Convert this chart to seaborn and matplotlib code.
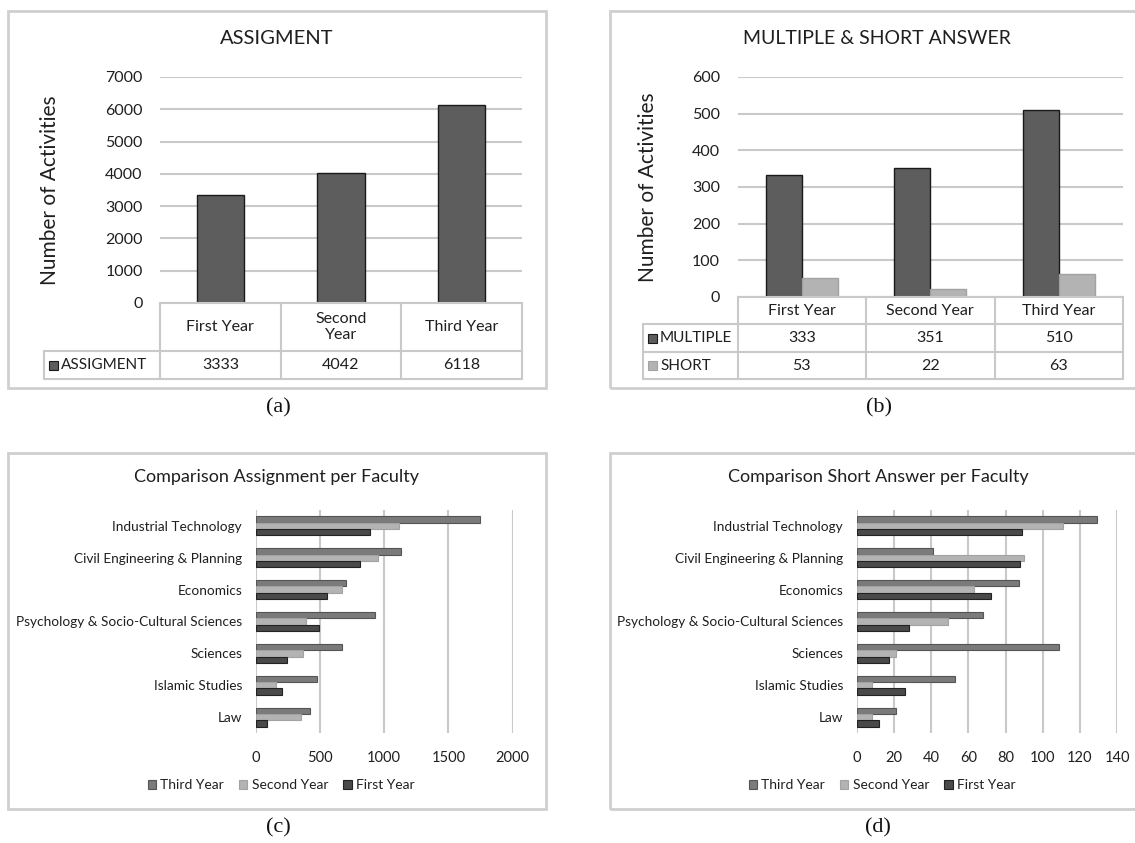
import matplotlib
matplotlib.use("Agg")
import matplotlib.pyplot as plt
import matplotlib.transforms as mtransforms
from matplotlib.patches import Rectangle
from matplotlib.lines import Line2D
import pandas as pd
import seaborn as sns

# ---- data -------------------------------------------------------------
years = ["First Year", "Second Year", "Third Year"]
year_headers = ["First Year", "Second\nYear", "Third Year"]
assignment = [3333, 4042, 6118]
multiple = [333, 351, 510]
short = [53, 22, 63]

faculties = ["Industrial Technology", "Civil Engineering & Planning", "Economics",
             "Psychology & Socio-Cultural Sciences", "Sciences", "Islamic Studies", "Law"]
assign_third = [1750, 1128, 704, 930, 668, 478, 419]
assign_second = [1114, 955, 668, 391, 363, 159, 349]
assign_first = [891, 810, 556, 489, 240, 201, 89]
short_third = [129, 41, 87, 68, 109, 53, 21]
short_second = [111, 90, 63, 49, 21, 8, 8]
short_first = [89, 88, 72, 28, 17, 26, 12]

# ---- style ------------------------------------------------------------
sns.set_style("white")
plt.rcParams["font.family"] = ["Lato", "DejaVu Sans"]
TXT = "#1f1f1f"
GRID = "#c9c9c9"
FRAME = "#cfcfcf"
DARK, DARK_EC = "#5d5d5d", "#1a1a1a"
LIGHT, LIGHT_EC = "#b3b3b3", "#a2a2a2"
MID, MID_EC = "#7b7b7b", "#555555"
FIRST, FIRST_EC = "#4a4a4a", "#222222"

W, H = 1135, 843
fig = plt.figure(figsize=(W / 100, H / 100), dpi=100)


def fx(px):
    return px / W


def fy(py):
    return 1 - py / H


def axes_at(x0, y0, x1, y1):
    return fig.add_axes([fx(x0), fy(y1), (x1 - x0) / W, (y1 - y0) / H])


def frame(x0, y0, x1, y1):
    fig.add_artist(Rectangle((fx(x0), fy(y1)), (x1 - x0) / W, (y1 - y0) / H,
                             transform=fig.transFigure, fill=False,
                             edgecolor=FRAME, linewidth=2))


def fig_line(xs, ys, trans):
    fig.add_artist(Line2D(xs, ys, transform=trans, color=GRID, linewidth=1.5,
                          clip_on=False))


def style_vertical(ax, ymax, step):
    ax.set_ylim(0, ymax)
    ax.set_yticks(range(0, ymax + 1, step))
    ax.yaxis.grid(True, color=GRID, linewidth=1.5)
    ax.set_axisbelow(True)
    for s in ax.spines.values():
        s.set_visible(False)
    ax.set_xticks([])
    ax.set_xlabel("")
    ax.set_ylabel("")
    ax.tick_params(axis="y", length=0, pad=12.5, labelsize=11.5, labelcolor=TXT)
    ax.set_xlim(-0.5, 2.5)


def table(ax, row_top, header_bottom, row_bounds, left_x):
    """Grid lines of the category table drawn under a vertical bar chart."""
    trans = mtransforms.blended_transform_factory(ax.transData, fig.transFigure)
    bottom = row_bounds[-1]
    for xb in [-0.5, 0.5, 1.5, 2.5]:
        fig_line([xb, xb], [fy(row_top), fy(bottom)], trans)
    fig_line([-0.5, 2.5], [fy(row_top), fy(row_top)], trans)
    x_left = fx(left_x)
    for yb in [header_bottom] + row_bounds:
        fig.add_artist(Line2D([x_left, ax.get_position().x1], [fy(yb), fy(yb)],
                              transform=fig.transFigure, color=GRID,
                              linewidth=1.5))
    fig.add_artist(Line2D([x_left, x_left], [fy(header_bottom), fy(bottom)],
                          transform=fig.transFigure, color=GRID, linewidth=1.5))
    return trans


# ======================= (a) ASSIGMENT =================================
frame(8, 11, 546, 388)
ax_a = axes_at(160, 77, 522, 303)
df_a = pd.DataFrame({"year": years, "count": assignment})
sns.barplot(data=df_a, x="year", y="count", color=DARK, width=0.39,
            saturation=1, edgecolor=DARK_EC, linewidth=1, ax=ax_a)
style_vertical(ax_a, 7000, 1000)
fig.text(fx(277), fy(39), "ASSIGMENT", ha="center", va="center",
         fontsize=14.5, color=TXT)
fig.text(fx(50), fy(190), "Number of Activities", rotation=90,
         ha="center", va="center", fontsize=15, color=TXT)
tr = table(ax_a, 303, 351, [379], 44)
for i, h in enumerate(year_headers):
    fig.text(0, 0, h, transform=tr, ha="center", va="center", fontsize=11.5,
             color=TXT, linespacing=1.25).set_position((i, fy(327)))
    fig.text(0, 0, f"{assignment[i]}", transform=tr, ha="center", va="center",
             fontsize=11.5, color=TXT).set_position((i, fy(365)))
fig.add_artist(Rectangle((fx(49), fy(370)), 9 / W, 9 / H,
                         transform=fig.transFigure, facecolor=DARK,
                         edgecolor=DARK_EC, linewidth=0.8))
fig.text(fx(61), fy(365), "ASSIGMENT", ha="left", va="center",
         fontsize=11, color=TXT)

# ================== (b) MULTIPLE & SHORT ANSWER ========================
frame(610, 11, 1140, 388)
ax_b = axes_at(737.5, 77, 1123, 297)
df_b = pd.DataFrame({
    "year": years * 2,
    "type": ["MULTIPLE"] * 3 + ["SHORT"] * 3,
    "count": multiple + short,
})
sns.barplot(data=df_b, x="year", y="count", hue="type",
            palette=[DARK, LIGHT], width=0.56, gap=0, saturation=1,
            legend=False, ax=ax_b)
for cont, ec in zip(ax_b.containers, [DARK_EC, LIGHT_EC]):
    for bar in cont:
        bar.set_edgecolor(ec)
        bar.set_linewidth(1)
style_vertical(ax_b, 600, 100)
fig.text(fx(877), fy(39), "MULTIPLE & SHORT ANSWER", ha="center",
         va="center", fontsize=14, color=TXT)
fig.text(fx(648), fy(187), "Number of Activities", rotation=90,
         ha="center", va="center", fontsize=15, color=TXT)
tr = table(ax_b, 297, 324, [352, 379], 643)
row_specs = [("MULTIPLE", DARK, DARK_EC, multiple, 338),
             ("SHORT", LIGHT, LIGHT_EC, short, 365.5)]
for i, y in enumerate(years):
    fig.text(0, 0, y, transform=tr, ha="center", va="center", fontsize=11.5,
             color=TXT).set_position((i, fy(311)))
for label, fc, ec, vals, yc in row_specs:
    for i, v in enumerate(vals):
        fig.text(0, 0, f"{v}", transform=tr, ha="center", va="center",
                 fontsize=11.5, color=TXT).set_position((i, fy(yc)))
    fig.add_artist(Rectangle((fx(648), fy(yc + 4.5)), 9 / W, 9 / H,
                             transform=fig.transFigure, facecolor=fc,
                             edgecolor=ec, linewidth=0.8))
    fig.text(fx(660), fy(yc), label, ha="left", va="center",
             fontsize=11, color=TXT)


# ============== (c)/(d) horizontal comparisons per faculty =============
hue_levels = ["Third Year", "Second Year", "First Year"]
hue_colors = [MID, LIGHT, FIRST]
hue_edges = [MID_EC, LIGHT_EC, FIRST_EC]


def faculty_panel(box, ax_box, title, title_x, third, second, first,
                  xmax, step, legend_x):
    frame(*box)
    ax = axes_at(*ax_box)
    df = pd.DataFrame({
        "faculty": faculties * 3,
        "year": [hue_levels[0]] * 7 + [hue_levels[1]] * 7 + [hue_levels[2]] * 7,
        "count": third + second + first,
    })
    sns.barplot(data=df, y="faculty", x="count", hue="year",
                hue_order=hue_levels, order=faculties, orient="h",
                palette=hue_colors, width=0.6, gap=0, saturation=1,
                legend=False, ax=ax)
    for cont, ec in zip(ax.containers, hue_edges):
        for bar in cont:
            bar.set_edgecolor(ec)
            bar.set_linewidth(0.8)
    ax.set_xlim(0, xmax)
    ax.set_xticks(range(0, xmax + 1, step))
    ax.xaxis.grid(True, color=GRID, linewidth=1.5)
    ax.set_axisbelow(True)
    for s in ax.spines.values():
        s.set_visible(False)
    ax.set_xlabel("")
    ax.set_ylabel("")
    ax.tick_params(axis="y", length=0, pad=10, labelsize=9.8, labelcolor=TXT)
    ax.tick_params(axis="x", length=0, pad=13, labelsize=10.5, labelcolor=TXT)
    fig.text(fx(title_x), fy(477), title, ha="center", va="center",
             fontsize=13, color=TXT)
    handles = [Rectangle((0, 0), 1, 1, facecolor=c, edgecolor=e, linewidth=0.8)
               for c, e in zip(hue_colors, hue_edges)]
    fig.legend(handles, hue_levels, loc="center",
               bbox_to_anchor=(fx(legend_x), fy(785)), ncol=3, frameon=False,
               fontsize=10, handlelength=0.6, handleheight=0.6,
               handletextpad=0.3, columnspacing=1.1, labelcolor=TXT)
    return ax


faculty_panel((8, 453, 546, 809), (256, 510, 512.5, 733),
              "Comparison Assignment per Faculty", 277,
              assign_third, assign_second, assign_first, 2000, 500, 281)
faculty_panel((610, 453, 1140, 809), (857, 510, 1117, 733),
              "Comparison Short Answer per Faculty", 878,
              short_third, short_second, short_first, 140, 20, 882)

# ---- panel captions -----------------------------------------------------
for label, x, y in [("(a)", 278, 408), ("(b)", 879, 408),
                    ("(c)", 278, 828), ("(d)", 878, 828)]:
    fig.text(fx(x), fy(y), label, ha="center", va="center", fontsize=16,
             family="Liberation Serif", color="#111111")

fig.savefig("out.png", dpi=100, facecolor="white")
